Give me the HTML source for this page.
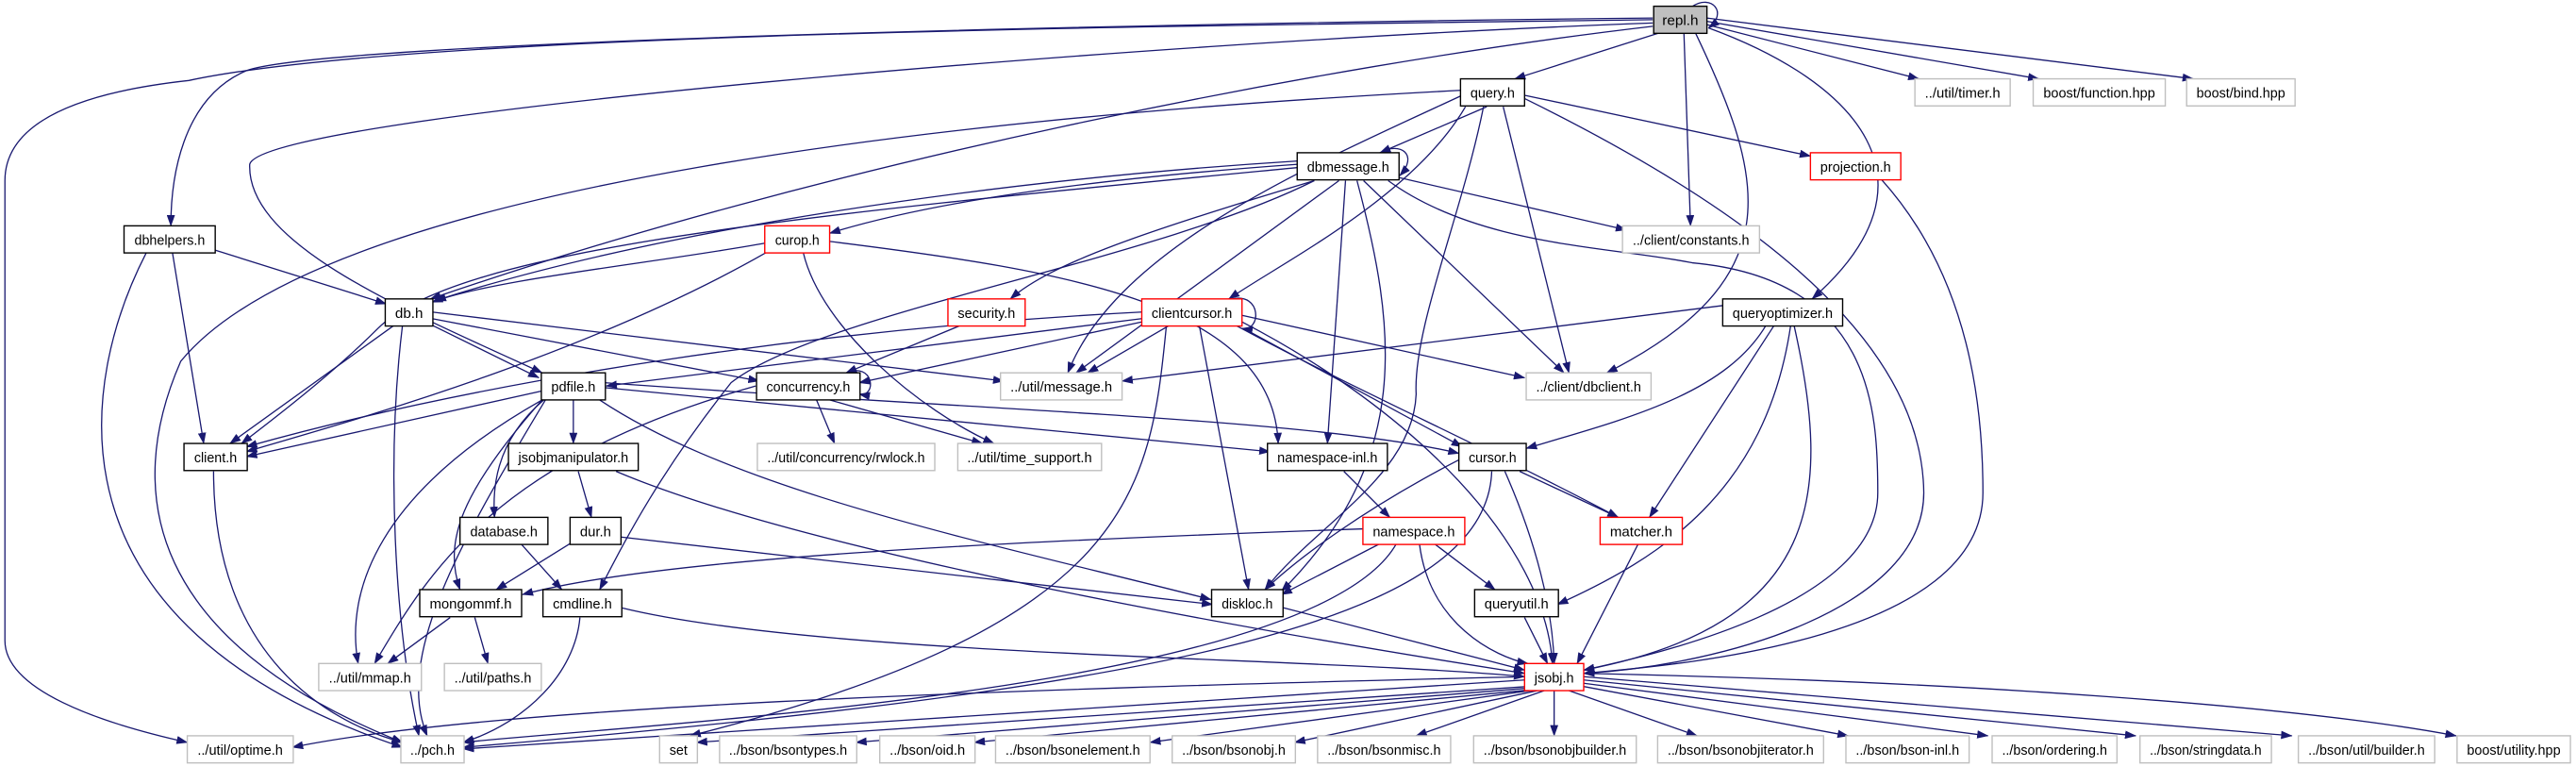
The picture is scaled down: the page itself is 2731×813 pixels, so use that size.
<!DOCTYPE html>
<html><head><meta charset="utf-8"><style>html,body{margin:0;padding:0;background:#fff;}svg{display:block}</style></head>
<body>
<svg width="2731" height="813" viewBox="0 0 1568 467" preserveAspectRatio="none" xmlns="http://www.w3.org/2000/svg">
<defs><marker id="a" markerUnits="userSpaceOnUse" markerWidth="7" markerHeight="5" refX="6.5" refY="2.5" orient="auto"><path d="M0,0 L7,2.5 L0,5 z" fill="#191970"/></marker></defs>
<g fill="none" stroke="#191970" stroke-width="0.75" marker-end="url(#a)">
<path d="M1010,20 L922,48"/><path d="M1039,15 L1168,48"/><path d="M1039,13 L1241,48"/><path d="M1039,11 L1335,48"/>
<path d="M1025,20 L1029,137.5"/><path d="M1032,20 C1075,110 1090,170 978,227"/><path d="M1040,17 C1130,50 1185,110 1103,182"/>
<path d="M1030,4 C1042,-4 1052,8 1040,17"/>
<path d="M1006,11 C700,14 200,25 150,43 C110,60 104,110 104,137.5"/>
<path d="M1006,12 C700,16 250,20 115,49 C60,55 3,70 3,110 L3,390 C3,420 60,440 114,452"/>
<path d="M1006,14 C700,25 160,70 152,100 C150,150 250,190 330,227"/>
<path d="M1006,16 C800,40 500,100 262,182"/>
<path d="M889,55 C600,70 200,110 110,220 C75,300 90,390 245,452"/>
<path d="M905,65 L840,93"/><path d="M928,58 L1102,95"/><path d="M915,65 L955,227"/>
<path d="M892,65 C860,120 780,160 748,182"/><path d="M890,58 C800,100 680,150 650,227"/>
<path d="M928,60 C1050,120 1170,200 1171,300 C1171,370 1050,405 964,410"/>
<path d="M903,65 C890,130 860,200 862,240 C860,290 800,320 770,359"/>
<path d="M840,93 C852,86 864,94 852,107"/><path d="M851,108 L990,140"/><path d="M830,110 L952,227"/>
<path d="M756,192 L928,230"/><path d="M819,110 L808,270"/><path d="M826,110 C850,200 860,280 780,360"/>
<path d="M845,110 C900,150 980,150 1030,160 C1140,170 1143,250 1143,300 C1143,370 1000,400 964,408"/>
<path d="M800,110 C700,160 500,190 445,233 C400,290 380,330 365,359"/>
<path d="M790,100 C650,110 560,125 505,142"/><path d="M800,110 C700,140 640,160 615,182"/>
<path d="M815,110 L655,227"/><path d="M790,102 C500,130 280,150 230,200 C200,230 160,260 147,270"/>
<path d="M790,98 C600,110 400,140 265,183"/>
<path d="M466,148 C400,160 300,170 263,184"/><path d="M466,154 C350,220 200,260 150,275"/>
<path d="M489,154 C500,200 560,250 605,270"/><path d="M505,147 C650,165 775,185 778,270"/>
<path d="M130,152 L235,185"/><path d="M105,154 L124,270"/><path d="M89,154 C50,230 20,380 245,455"/>
<path d="M263,198 L328,230"/><path d="M263,194 L462,232"/><path d="M263,190 L611,232"/><path d="M240,198 L140,270"/>
<path d="M245,198 C235,280 240,380 255,448"/><path d="M585,198 L515,227"/>
<path d="M750,182 C768,178 768,202 756,200"/><path d="M695,194 L369,235"/><path d="M695,196 L523,233"/>
<path d="M712,198 L662,227"/><path d="M757,200 L890,272"/><path d="M730,198 L760,359"/>
<path d="M752,198 C830,240 900,270 985,315"/><path d="M756,196 C860,250 940,330 945,404"/>
<path d="M695,190 C500,200 300,230 150,272"/><path d="M710,198 C700,300 690,380 420,448"/>
<path d="M515,227 C532,220 534,242 523,240"/><path d="M497,243.5 L508,270"/><path d="M505,243.5 L598,270"/>
<path d="M460,235 C300,280 260,350 228,404"/>
<path d="M330,238 L150,278"/><path d="M349,243.5 L349,270"/><path d="M331,243.5 C300,270 300,300 301,315"/>
<path d="M330,243.5 C280,300 270,330 280,359"/><path d="M330,243.5 C230,300 210,360 218,404"/>
<path d="M332,243.5 C280,330 240,400 260,448"/><path d="M365,243.5 C450,300 600,330 737,365"/>
<path d="M368,236 L773,275"/><path d="M368,233 C600,250 800,255 888,276"/>
<path d="M352,287 L360,315"/><path d="M375,287 C500,340 800,390 928,410"/>
<path d="M347,331 L302,359"/><path d="M378,327 L738,368"/><path d="M317,331 L342,359"/>
<path d="M274,376 L236,404"/><path d="M289,376 L297,404"/>
<path d="M353,376 C350,410 320,440 282,452"/><path d="M378,370 C500,400 800,400 928,412"/>
<path d="M130,287 C130,400 200,440 245,452"/><path d="M781,370 L928,408"/><path d="M818,287 L846,315"/>
<path d="M830,322 C600,330 400,340 318,362"/><path d="M840,331 L780,362"/><path d="M864,331 C870,380 910,400 930,404"/>
<path d="M873,331 L910,359"/><path d="M850,331 C800,420 400,440 282,452"/>
<path d="M925,287 L985,315"/><path d="M916,287 C935,330 945,370 946,404"/><path d="M888,280 C830,310 790,340 770,359"/>
<path d="M908,287 C905,380 700,420 282,455"/><path d="M997,331.5 L960,404"/><path d="M928,376 L942,404"/>
<path d="M1075,198 C1050,240 990,255 929,273"/><path d="M1080,198 L1004,315"/>
<path d="M1090,198 C1075,300 1010,340 948,368"/><path d="M1092,198 C1115,300 1110,380 964,408"/>
<path d="M1049,186 L683,232"/>
<path d="M1145,109 C1200,170 1207,250 1207,300 C1207,390 1020,405 964,410"/>
<path d="M928,412 C600,420 300,430 178,455"/><path d="M928,414 L282,456"/><path d="M930,418 L424,452"/>
<path d="M930,419 L521,452"/><path d="M932,420 L593,452"/><path d="M935,420 L700,452"/><path d="M938,420 L788,452"/>
<path d="M940,420.5 L862,448"/><path d="M946,420.5 L946,448"/><path d="M955,420.5 L1033,448"/>
<path d="M964,418 L1125,448"/><path d="M964,416 L1210,448"/><path d="M964,414 L1300,448"/><path d="M964,412 L1395,448"/>
<path d="M964,410 C1200,415 1400,430 1495,448"/>
</g>
<g font-family="'Liberation Sans', sans-serif" font-size="8.5" text-anchor="middle" stroke-width="0.8">
<g stroke="#000" fill="#fff">
<rect x="1006.6" y="3.8" width="32.4" height="16.5" fill="#bfbfbf"/>
<rect x="889" y="48" width="39" height="16.5"/>
<rect x="789.6" y="93" width="62" height="16.5"/>
<rect x="75.5" y="137.5" width="55.5" height="16.5"/>
<rect x="234.5" y="182" width="29" height="16.5"/>
<rect x="1048.6" y="182" width="73" height="16.5"/>
<rect x="329.5" y="227" width="39" height="16.5"/>
<rect x="460.5" y="227" width="63" height="16.5"/>
<rect x="112" y="270" width="38.5" height="16.5"/>
<rect x="309.5" y="270" width="79" height="16.5"/>
<rect x="771.5" y="270" width="73" height="16.5"/>
<rect x="888" y="270" width="41" height="16.5"/>
<rect x="280" y="315" width="53.5" height="16.5"/>
<rect x="347" y="315" width="31" height="16.5"/>
<rect x="255.5" y="359" width="62" height="16.5"/>
<rect x="330.5" y="359" width="48" height="16.5"/>
<rect x="737.5" y="359" width="43.5" height="16.5"/>
<rect x="897.6" y="359" width="51" height="16.5"/>
</g>
<g stroke="#ff0000" fill="#fff">
<rect x="1102" y="93" width="55" height="16.5"/>
<rect x="465.5" y="137.5" width="39.5" height="16.5"/>
<rect x="577" y="182" width="47" height="16.5"/>
<rect x="695" y="182" width="61" height="16.5"/>
<rect x="829.6" y="315" width="62" height="16.5"/>
<rect x="974" y="315" width="50" height="16.5"/>
<rect x="928" y="404" width="36" height="16.5"/>
</g>
<g stroke="#bfbfbf" fill="#fff">
<rect x="1165.6" y="48" width="58" height="16.5"/>
<rect x="1237.6" y="48" width="80.4" height="16.5"/>
<rect x="1331" y="48" width="66" height="16.5"/>
<rect x="987.6" y="137.5" width="83.4" height="16.5"/>
<rect x="609" y="227" width="74" height="16.5"/>
<rect x="929" y="227" width="76" height="16.5"/>
<rect x="461" y="270" width="108" height="16.5"/>
<rect x="583" y="270" width="87.5" height="16.5"/>
<rect x="194" y="404" width="62.5" height="16.5"/>
<rect x="270.5" y="404" width="59" height="16.5"/>
<rect x="114" y="448" width="64.5" height="16.5"/>
<rect x="244" y="448" width="38.5" height="16.5"/>
<rect x="401.5" y="448" width="23" height="16.5"/>
<rect x="438" y="448" width="83.5" height="16.5"/>
<rect x="535.5" y="448" width="58" height="16.5"/>
<rect x="606" y="448" width="94" height="16.5"/>
<rect x="713.5" y="448" width="75" height="16.5"/>
<rect x="802" y="448" width="81" height="16.5"/>
<rect x="897" y="448" width="99" height="16.5"/>
<rect x="1009" y="448" width="101" height="16.5"/>
<rect x="1123.6" y="448" width="75" height="16.5"/>
<rect x="1212.6" y="448" width="76" height="16.5"/>
<rect x="1302.6" y="448" width="80" height="16.5"/>
<rect x="1399" y="448" width="83" height="16.5"/>
<rect x="1495.6" y="448" width="69" height="16.5"/>
</g>
<g fill="#000" lengthAdjust="spacingAndGlyphs">
<text x="1022.8" y="15.3" textLength="22" lengthAdjust="spacingAndGlyphs">repl.h</text>
<text x="908.5" y="59.5" textLength="27" lengthAdjust="spacingAndGlyphs">query.h</text>
<text x="1194.6" y="59.5" textLength="46" lengthAdjust="spacingAndGlyphs">../util/timer.h</text>
<text x="1277.8" y="59.5" textLength="68" lengthAdjust="spacingAndGlyphs">boost/function.hpp</text>
<text x="1364" y="59.5" textLength="54" lengthAdjust="spacingAndGlyphs">boost/bind.hpp</text>
<text x="820.6" y="104.5" textLength="50" lengthAdjust="spacingAndGlyphs">dbmessage.h</text>
<text x="1129.5" y="104.5" textLength="43" lengthAdjust="spacingAndGlyphs">projection.h</text>
<text x="1029.3" y="149" textLength="71" lengthAdjust="spacingAndGlyphs">../client/constants.h</text>
<text x="103.3" y="149" textLength="43" lengthAdjust="spacingAndGlyphs">dbhelpers.h</text>
<text x="485.3" y="149" textLength="27" lengthAdjust="spacingAndGlyphs">curop.h</text>
<text x="249" y="193.5" textLength="17" lengthAdjust="spacingAndGlyphs">db.h</text>
<text x="600.5" y="193.5" textLength="35" lengthAdjust="spacingAndGlyphs">security.h</text>
<text x="725.5" y="193.5" textLength="49" lengthAdjust="spacingAndGlyphs">clientcursor.h</text>
<text x="1085.1" y="193.5" textLength="61" lengthAdjust="spacingAndGlyphs">queryoptimizer.h</text>
<text x="349" y="238.5" textLength="27" lengthAdjust="spacingAndGlyphs">pdfile.h</text>
<text x="492" y="238.5" textLength="51" lengthAdjust="spacingAndGlyphs">concurrency.h</text>
<text x="646" y="238.5" textLength="62" lengthAdjust="spacingAndGlyphs">../util/message.h</text>
<text x="967" y="238.5" textLength="64" lengthAdjust="spacingAndGlyphs">../client/dbclient.h</text>
<text x="131.2" y="281.5" textLength="26" lengthAdjust="spacingAndGlyphs">client.h</text>
<text x="349" y="281.5" textLength="67" lengthAdjust="spacingAndGlyphs">jsobjmanipulator.h</text>
<text x="515" y="281.5" textLength="96" lengthAdjust="spacingAndGlyphs">../util/concurrency/rwlock.h</text>
<text x="626.7" y="281.5" textLength="76" lengthAdjust="spacingAndGlyphs">../util/time_support.h</text>
<text x="808" y="281.5" textLength="61" lengthAdjust="spacingAndGlyphs">namespace-inl.h</text>
<text x="908.5" y="281.5" textLength="29" lengthAdjust="spacingAndGlyphs">cursor.h</text>
<text x="306.7" y="326.5" textLength="41" lengthAdjust="spacingAndGlyphs">database.h</text>
<text x="362.5" y="326.5" textLength="19" lengthAdjust="spacingAndGlyphs">dur.h</text>
<text x="860.6" y="326.5" textLength="50" lengthAdjust="spacingAndGlyphs">namespace.h</text>
<text x="999" y="326.5" textLength="38" lengthAdjust="spacingAndGlyphs">matcher.h</text>
<text x="286.5" y="370.5" textLength="50" lengthAdjust="spacingAndGlyphs">mongommf.h</text>
<text x="354.5" y="370.5" textLength="36" lengthAdjust="spacingAndGlyphs">cmdline.h</text>
<text x="759.2" y="370.5" textLength="31" lengthAdjust="spacingAndGlyphs">diskloc.h</text>
<text x="923.1" y="370.5" textLength="39" lengthAdjust="spacingAndGlyphs">queryutil.h</text>
<text x="225.2" y="415.5" textLength="50" lengthAdjust="spacingAndGlyphs">../util/mmap.h</text>
<text x="300" y="415.5" textLength="47" lengthAdjust="spacingAndGlyphs">../util/paths.h</text>
<text x="946" y="415.5" textLength="24" lengthAdjust="spacingAndGlyphs">jsobj.h</text>
<text x="146.2" y="459.5" textLength="52" lengthAdjust="spacingAndGlyphs">../util/optime.h</text>
<text x="263.2" y="459.5" textLength="27" lengthAdjust="spacingAndGlyphs">../pch.h</text>
<text x="413" y="459.5" textLength="11" lengthAdjust="spacingAndGlyphs">set</text>
<text x="479.7" y="459.5" textLength="72" lengthAdjust="spacingAndGlyphs">../bson/bsontypes.h</text>
<text x="564.5" y="459.5" textLength="46" lengthAdjust="spacingAndGlyphs">../bson/oid.h</text>
<text x="653" y="459.5" textLength="82" lengthAdjust="spacingAndGlyphs">../bson/bsonelement.h</text>
<text x="751" y="459.5" textLength="63" lengthAdjust="spacingAndGlyphs">../bson/bsonobj.h</text>
<text x="842.5" y="459.5" textLength="69" lengthAdjust="spacingAndGlyphs">../bson/bsonmisc.h</text>
<text x="946.5" y="459.5" textLength="87" lengthAdjust="spacingAndGlyphs">../bson/bsonobjbuilder.h</text>
<text x="1059.5" y="459.5" textLength="89" lengthAdjust="spacingAndGlyphs">../bson/bsonobjiterator.h</text>
<text x="1161.1" y="459.5" textLength="63" lengthAdjust="spacingAndGlyphs">../bson/bson-inl.h</text>
<text x="1250.6" y="459.5" textLength="64" lengthAdjust="spacingAndGlyphs">../bson/ordering.h</text>
<text x="1342.6" y="459.5" textLength="68" lengthAdjust="spacingAndGlyphs">../bson/stringdata.h</text>
<text x="1440.5" y="459.5" textLength="71" lengthAdjust="spacingAndGlyphs">../bson/util/builder.h</text>
<text x="1530.1" y="459.5" textLength="57" lengthAdjust="spacingAndGlyphs">boost/utility.hpp</text>
</g>
</g>
</svg>
</body></html>
